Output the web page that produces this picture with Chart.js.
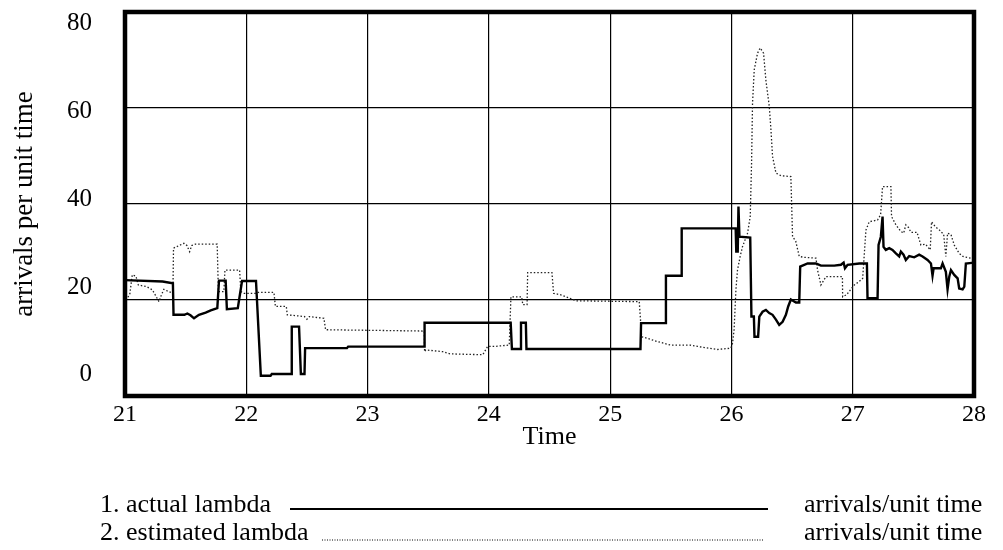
<!DOCTYPE html>
<html>
<head>
<meta charset="utf-8">
<script src="https://cdn.jsdelivr.net/npm/chart.js@4/dist/chart.umd.min.js"></script>
<style>
  body { margin: 0; background: #fff; }
  canvas { display: block; }
</style>
</head>
<body>
<canvas id="grafico" width="1003" height="550"></canvas>
<script>
// actual lambda (solid line)
var actualT = [21.00, 21.31, 21.395, 21.40, 21.49, 21.514, 21.54, 21.569, 21.61, 21.665, 21.707, 21.761,
  21.775, 21.83, 21.84, 21.93, 21.965, 22.08, 22.12, 22.20, 22.21, 22.37, 22.375, 22.435, 22.45, 22.48,
  22.485, 22.83, 22.84, 23.468, 23.47, 24.18, 24.19, 24.26, 24.265, 24.305, 24.31, 25.25, 25.255, 25.455,
  25.46, 25.585, 25.59, 26.035, 26.04, 26.052, 26.058, 26.066, 26.155, 26.165, 26.185, 26.19, 26.22, 26.23,
  26.257, 26.284, 26.312, 26.339, 26.367, 26.394, 26.422, 26.449, 26.468, 26.49, 26.532, 26.559, 26.567,
  26.628, 26.697, 26.738, 26.848, 26.903, 26.925, 26.936, 26.958, 27.054, 27.117, 27.122, 27.205, 27.213,
  27.232, 27.246, 27.254, 27.273, 27.301, 27.328, 27.356, 27.383, 27.397, 27.419, 27.438, 27.466, 27.507,
  27.548, 27.576, 27.617, 27.645, 27.658, 27.667, 27.727, 27.741, 27.768, 27.782, 27.796, 27.81, 27.837,
  27.865, 27.878, 27.906, 27.92, 27.933, 28.0]
var actualV = [21.6, 21.3, 20.9, 13.7, 13.7, 14.0, 13.6, 12.9, 13.7, 14.2, 14.7, 15.2,
  21.5, 21.5, 15.0, 15.2, 21.4, 21.4, -0.2, -0.2, 0.2, 0.2, 11.0, 11.0, 0.2, 0.2,
  6.1, 6.1, 6.45, 6.45, 11.9, 11.9, 5.9, 5.9, 11.9, 11.9, 5.9, 5.9, 11.8, 11.8,
  22.6, 22.6, 33.4, 33.4, 28.1, 28.1, 38.4, 31.5, 31.3, 13.3, 13.3, 8.7, 8.7, 13.3,
  14.4, 14.8, 14.1, 13.7, 12.6, 11.4, 12.1, 13.7, 15.6, 17.2, 16.5, 16.5, 24.7,
  25.4, 25.4, 24.9, 24.9, 25.1, 25.6, 24.3, 25.1, 25.4, 25.4, 17.5, 17.5, 29.6,
  31.5, 36.1, 29.2, 28.5, 28.9, 28.5, 27.7, 27.0, 28.1, 27.4, 26.2, 27.1, 26.8,
  27.4, 27.0, 26.2, 25.4, 22.6, 24.3, 24.3, 25.4, 23.5, 19.5, 22.4, 23.9, 22.8,
  22.0, 19.7, 19.5, 20.1, 25.4, 25.6]

// estimated lambda (dotted line)
var estT = [21.01, 21.04, 21.06, 21.09, 21.11, 21.18, 21.225, 21.25, 21.28, 21.294, 21.32, 21.36, 21.395,
  21.40, 21.44, 21.486, 21.51, 21.533, 21.55, 21.58, 21.76, 21.77, 21.815, 21.824, 21.945, 21.955, 21.98,
  22.08, 22.10, 22.228, 22.24, 22.33, 22.338, 22.48, 22.50, 22.52, 22.64, 22.654, 23.468, 23.47, 23.48,
  23.62, 23.68, 23.95, 23.99, 24.05, 24.168, 24.182, 24.27, 24.28, 24.315, 24.32, 24.52, 24.534, 24.60,
  24.718, 25.24, 25.26, 25.30, 25.39, 25.50, 25.66, 25.72, 25.885, 25.995, 26.009, 26.022, 26.037, 26.05,
  26.072, 26.091, 26.133, 26.155, 26.166, 26.174, 26.188, 26.215, 26.237, 26.265, 26.284, 26.312, 26.326,
  26.339, 26.367, 26.408, 26.49, 26.504, 26.53, 26.559, 26.60, 26.697, 26.71, 26.738, 26.779, 26.915,
  26.917, 26.95, 27.013, 27.05, 27.082, 27.109, 27.136, 27.205, 27.23, 27.246, 27.315, 27.32, 27.356,
  27.397, 27.42, 27.438, 27.46, 27.48, 27.53, 27.562, 27.60, 27.639, 27.65, 27.68, 27.716, 27.75, 27.768,
  27.782, 27.81, 27.837, 27.878, 27.91, 27.975, 28.0]
var estV = [17.0, 18.5, 22.8, 22.5, 20.5, 20.1, 19.4, 18.2, 16.7, 17.8, 19.5, 19.0, 18.6,
  28.9, 29.4, 30.0, 29.5, 28.1, 29.5, 29.8, 29.8, 19.0, 19.0, 23.9, 23.9, 19.0, 18.6,
  18.6, 18.8, 18.8, 15.6, 15.6, 13.7, 13.3, 12.7, 13.3, 12.9, 10.3, 10.0, 5.3, 5.7,
  5.3, 4.8, 4.6, 6.5, 6.5, 6.8, 17.8, 17.8, 16.0, 16.0, 23.3, 23.3, 18.6, 18.2,
  16.9, 16.7, 8.7, 8.4, 7.6, 6.8, 6.8, 6.5, 5.8, 6.1, 7.2, 10.3, 19.4, 23.9,
  27.0, 29.2, 32.3, 36.1, 48.2, 61.9, 69.5, 73.3, 74.5, 73.3, 67.2, 61.2, 55.8,
  49.8, 46.0, 45.4, 45.2, 31.5, 30.5, 27.0, 26.8, 26.6, 23.9, 20.5, 22.4, 22.4,
  17.8, 18.3, 20.5, 21.2, 22.0, 33.0, 34.9, 35.3, 36.5, 42.9, 42.9, 36.1, 34.2,
  32.7, 32.3, 34.2, 33.6, 32.5, 32.5, 29.6, 29.8, 28.5, 34.9, 33.8, 33.0, 32.0, 27.0,
  32.3, 32.0, 29.6, 27.7, 27.0, 26.6, 26.6]

var xTicks = [21, 22, 23, 24, 25, 26, 27, 28]
var yTicks = [0, 20, 40, 60, 80]
var gridTicks = [0, 20, 40, 60, 80]

var nomes = ["1. actual lambda", "2. estimated lambda"]
var unidade = "arrivals/unit time"

var fonte = "'Liberation Serif', 'Times New Roman', serif"

function pontos(ts, vs) {
    return ts.map(function (t, i) { return { x: t, y: vs[i] } })
}

// moldura grossa em volta da area do grafico
var moldura = {
    id: "moldura",
    afterDatasetsDraw: function (chart) {
        var a = chart.chartArea
        var ctx = chart.ctx
        ctx.save()
        ctx.strokeStyle = "#000"
        ctx.lineWidth = 4.5
        ctx.strokeRect(a.left, a.top, a.right - a.left, a.bottom - a.top)
        ctx.restore()
    }
}

// legenda no estilo da figura original
var legenda = {
    id: "legenda",
    afterDraw: function (chart) {
        var ctx = chart.ctx
        ctx.save()
        ctx.fillStyle = "#000"
        ctx.font = "26px " + fonte
        ctx.textBaseline = "middle"
        var linhas = [505, 533]
        var yLinha = [509, 540]
        var inicioLinha = [290, 322]
        var fimLinha = [768, 763]
        for (var i = 0; i < nomes.length; i++) {
            ctx.textAlign = "left"
            ctx.fillText(nomes[i], 100, linhas[i])
            ctx.fillText(unidade, 804, linhas[i])
            ctx.beginPath()
            ctx.strokeStyle = "#000"
            if (i == 0) {
                ctx.lineWidth = 1.8
                ctx.setLineDash([])
            } else {
                ctx.lineWidth = 1
                ctx.setLineDash([1, 1.5])
            }
            ctx.moveTo(inicioLinha[i], yLinha[i])
            ctx.lineTo(fimLinha[i], yLinha[i])
            ctx.stroke()
        }
        ctx.restore()
    }
}

function semPadding(scale) {
    scale.paddingTop = 0
    scale.paddingBottom = 0
    scale.paddingLeft = 0
    scale.paddingRight = 0
}

const ctx = document.getElementById("grafico")

new Chart(ctx, {
    type: "line",
    data: {
        datasets: [{
            label: nomes[0],
            data: pontos(actualT, actualV),
            borderColor: "#000",
            borderWidth: 2.4,
            pointRadius: 0,
            tension: 0,
            yAxisID: "y"
        }, {
            label: nomes[1],
            data: pontos(estT, estV),
            borderColor: "#222",
            borderWidth: 1.3,
            borderDash: [1.5, 2],
            pointRadius: 0,
            tension: 0,
            yAxisID: "y"
        }]
    },
    options: {
        responsive: false,
        animation: false,
        layout: {
            padding: { left: 0, right: 29, top: 12, bottom: 95 }
        },
        plugins: {
            legend: { display: false },
            tooltip: { enabled: false }
        },
        scales: {
            x: {
                type: "linear",
                min: 21,
                max: 28,
                afterBuildTicks: function (scale) {
                    scale.ticks = xTicks.map(function (v) { return { value: v } })
                },
                afterFit: function (scale) {
                    scale.height = 59
                    semPadding(scale)
                },
                grid: { color: "#000", lineWidth: 1.2, drawTicks: false },
                border: { display: false },
                ticks: {
                    color: "#000",
                    padding: 4,
                    maxRotation: 0,
                    font: { family: fonte, size: 24 }
                },
                title: {
                    display: true,
                    text: "Time",
                    color: "#000",
                    padding: { top: 0, bottom: 2 },
                    font: { family: fonte, size: 26 }
                }
            },
            y: {
                type: "linear",
                position: "left",
                min: -4.8,
                max: 82.7,
                afterBuildTicks: function (scale) {
                    scale.ticks = yTicks.map(function (v) { return { value: v } })
                },
                afterFit: function (scale) {
                    scale.width = 125
                    semPadding(scale)
                },
                grid: { display: false, drawTicks: false },
                border: { display: false },
                ticks: {
                    color: "#000",
                    padding: 33,
                    font: { family: fonte, size: 25 }
                },
                title: {
                    display: true,
                    text: "arrivals per unit time",
                    color: "#000",
                    padding: { top: 9, bottom: 0 },
                    font: { family: fonte, size: 27 }
                }
            },
            g: {
                type: "linear",
                position: "left",
                min: 0,
                max: 80,
                afterBuildTicks: function (scale) {
                    scale.ticks = gridTicks.map(function (v) { return { value: v } })
                },
                afterFit: function (scale) {
                    scale.width = 0
                    semPadding(scale)
                },
                grid: { color: "#000", lineWidth: 1.2, drawTicks: false },
                border: { display: false },
                ticks: { display: false }
            }
        }
    },
    plugins: [moldura, legenda]
})
</script>
</body>
</html>
